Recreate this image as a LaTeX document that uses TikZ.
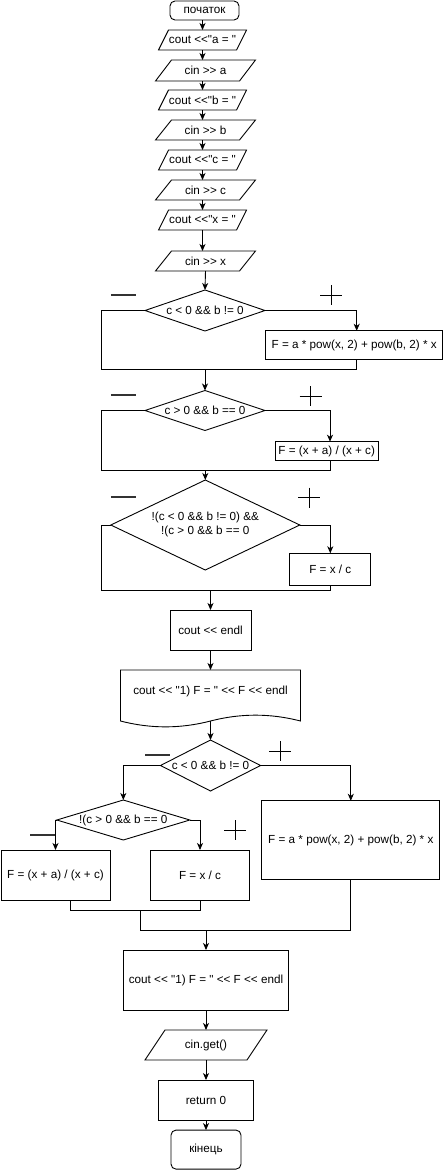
\documentclass[tikz,border=0pt]{standalone}
\usepackage{fontspec}
\setmainfont{Liberation Sans}[Ligatures=TeXOff]
\usetikzlibrary{shapes.geometric,arrows.meta}

\begin{document}
\begin{tikzpicture}[x=1pt,y=-1pt,
  every node/.style={font=\fontsize{11.7}{13.5}\selectfont, inner sep=0pt, outer sep=0pt},
  line/.style={draw=black, line width=0.9pt},
  arr/.style={line, -{Stealth[length=7pt,width=6pt,inset=2pt]}},
  term/.style={line, rectangle, rounded corners=5pt},
  proc/.style={line, rectangle},
  io/.style={rectangle},
  dec/.style={line, diamond},
  sz/.style 2 args={minimum width=#1pt, minimum height=#2pt},
  pics/plusmark/.style={code={\draw[line width=0.9pt] (-11,0) -- (11,0) (0,-10) -- (0,10);}},
  pics/minusmark/.style={code={\draw[line width=2pt, black!80] (-12.5,0) -- (12.5,0);}},
]
\useasboundingbox (0,0) rectangle (447,1170);

% --- input section ---
\node[term, sz={69}{19}] (start) at (204.5,10.5) {початок};
\node[io, sz={78}{20}] (p1) at (202.5,40)  {cout <<"a = "};
\node[io, sz={84}{21}] (p2) at (205.5,70.5) {cin >> a};
\node[io, sz={78}{20}] (p3) at (202.5,100) {cout <<"b = "};
\node[io, sz={84}{20}] (p4) at (205.5,130) {cin >> b};
\node[io, sz={78}{20}] (p5) at (202.5,160) {cout <<"c = "};
\node[io, sz={84}{20}] (p6) at (205.5,190) {cin >> c};
\node[io, sz={78}{20}] (p7) at (202.5,220) {cout <<"x = "};
\node[io, sz={84}{20}] (p8) at (205.5,261) {cin >> x};

% --- first block of conditions ---
\node[dec, sz={120}{41}] (d1) at (205,310.5) {\makebox[0pt]{c < 0 \&\& b != 0}};
\node[proc, sz={177}{29}] (b1) at (354.2,345.3) {F = a * pow(x, 2) + pow(b, 2) * x};
\node[dec, sz={120}{40}] (d2) at (205,410.5) {\makebox[0pt]{c > 0 \&\& b == 0}};
\node[proc, sz={103}{19}] (b2) at (326.7,451.2) {F = (x + a) / (x + c)};
\node[dec, sz={189}{90}] (d3) at (205.3,525) {\makebox[0pt]{\begin{tabular}{@{}c@{}}!(c < 0 \&\& b != 0) \&\&\\!(c > 0 \&\& b == 0\end{tabular}}};
\node[proc, sz={81}{32}] (b3) at (330.3,569.3) {F = x / c};

% --- output ---
\node[proc, sz={81}{40}] (c1) at (210.5,630) {cout << endl};
\node[io, sz={180}{43.4}] (doc) at (210.5,691.7) {cout << "1) F = " << F << endl};

% --- second block of conditions ---
\node[dec, sz={100}{51}] (d4) at (210.5,765.5) {\makebox[0pt]{c < 0 \&\& b != 0}};
\node[dec, sz={133}{40}] (d5) at (123.3,820) {\makebox[0pt]{!(c > 0 \&\& b == 0}};
\node[proc, sz={109}{50}] (b4) at (55.5,875) {F = (x + a) / (x + c)};
\node[proc, sz={99}{50}] (b5) at (200,875) {F = x / c};
\node[proc, sz={178}{79}] (b6) at (350.8,840.3) {F = a * pow(x, 2) + pow(b, 2) * x};

% --- final section ---
\node[proc, sz={165}{60}] (c2) at (206,980) {cout << "1) F = " << F << endl};
\node[io, sz={102}{30}] (p9) at (206,1045) {cin.get()};
\node[proc, sz={95}{40.5}] (c3) at (206,1100.3) {return 0};
\node[term, sz={70}{39}] (end) at (206,1149.6) {кінець};

% parallelogram outlines of the input/output blocks
\foreach \n/\s in {p1/5,p2/8,p3/5,p4/8,p5/5,p6/8,p7/5,p8/8,p9/10}
  \draw[line] ([xshift=-\s pt]\n.south west) -- ([xshift=\s pt]\n.north west)
    -- ([xshift=\s pt]\n.north east) -- ([xshift=-\s pt]\n.south east) -- cycle;

% document outline with wavy lower edge
\draw[line] (doc.north west) -- (doc.north east) -- (300.5,721)
  .. controls (270.5,713.2) and (240.5,713.2) .. (210.5,721)
  .. controls (180.5,728.8) and (150.5,728.8) .. (120.5,721) -- cycle;
\coordinate (docb) at (210.5,721);

% joints
\coordinate (l1) at (101,369);
\coordinate (m1) at (205,369);
\coordinate (l2) at (101,470);
\coordinate (l3) at (101,590);
\coordinate (j1) at (140,910);
\coordinate (j2) at (140,930);

% connectors: input chain
\foreach \a/\b in {start/p1,p1/p2,p2/p3,p3/p4,p4/p5,p5/p6,p6/p7,p7/p8}
  \draw[arr] (\a.south -| p1) -- (\b.north -| p1);
\draw[arr] (p8.south) -- (d1.north);

% first condition
\draw[arr] (d1.east) -| ([xshift=2.5pt]b1.north);
\draw[line] (d1.west) -| (l1) -| ([xshift=2.5pt]b1.south);
\draw[arr] (m1) -- (d2.north);

% second condition
\draw[arr] (d2.east) -| ([xshift=3.3pt]b2.north);
\draw[line] (d2.west) -| (l2) -| ([xshift=3.3pt]b2.south);
\draw[arr] (d3.north |- l2) -- (d3.north);

% third condition
\draw[arr] (d3.east) -| (b3.north);
\draw[line] (d3.west) -| (l3) -| (b3.south);
\draw[arr] (c1.north |- l3) -- (c1.north);
\draw[arr] (c1.south) -- (doc.north);
\draw[arr] (docb) -- (d4.north);

% nested conditions
\draw[arr] (d4.west) -| (d5.north);
\draw[arr] (d4.east) -| (b6.north);
\draw[arr] (d5.west) -| (b4.north);
\draw[arr] (d5.east) -| (b5.north);
\draw[line] ([xshift=14.5pt]b4.south) |- (j1) -| (b5.south);
\draw[line] (j1) -- (j2);
\draw[line] (b6.south) |- (j2);
\draw[arr] (c2.north |- j2) -- (c2.north);

% final chain
\draw[arr] (c2.south) -- (p9.north);
\draw[arr] (p9.south) -- (c3.north);
\draw[arr] (c3.south) -- (end.north);

% branch marks
\pic at (123.3,295) {minusmark};
\pic at (331.3,295) {plusmark};
\pic at (123.3,395) {minusmark};
\pic at (310.5,396.3) {plusmark};
\pic at (123.3,497) {minusmark};
\pic at (309.3,497.5) {plusmark};
\pic at (157.5,755) {minusmark};
\pic at (280,751) {plusmark};
\pic at (42.5,835) {minusmark};
\pic at (235,830) {plusmark};
\end{tikzpicture}
\end{document}
